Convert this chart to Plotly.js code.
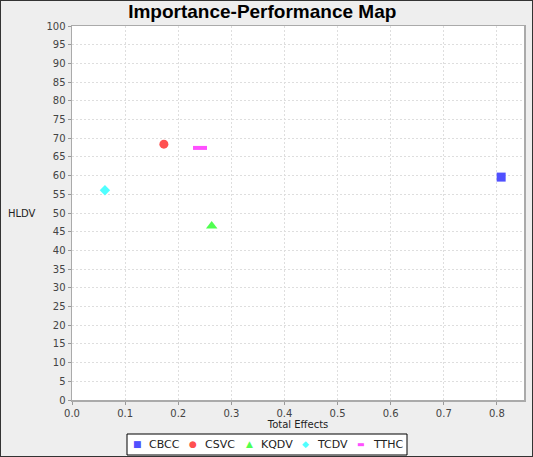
<!DOCTYPE html>
<html><head><meta charset="utf-8">
<script src="https://cdn.plot.ly/plotly-3.0.1.min.js"></script>
<style>body{margin:0;}#wrap{position:relative;width:533px;height:457px;}#frame{position:absolute;left:0;top:0;width:533px;height:457px;box-sizing:border-box;border:1px solid #333;pointer-events:none;}</style>
</head><body>
<div id="wrap"><div id="chart" style="width:533px;height:457px;"></div><div id="frame"></div></div>
<script>
const seriesNames = ["CBCC", "CSVC", "KQDV", "TCDV", "TTHC"];
const totalEffects = [0.808, 0.173, 0.263, 0.062, 0.241];
const hldv = [59.6, 68.4, 46.5, 56.1, 67.4];
const colors = ["#5050ff", "#ff5050", "#50ff50", "#50ffff", "#ff50ff"];
const symbols = ["square", "circle", "triangle-up", "diamond", "line-ew"];
const legendGlyphs = ["■", "●", "▲", "◆", "▬"];
const sizes = [9, 9, 10, 8, 10];

const traces = seriesNames.map((n, i) => ({
  type: "scatter", mode: "markers", name: n, showlegend: false,
  x: [totalEffects[i]], y: [hldv[i]],
  marker: symbols[i] === "line-ew"
    ? {symbol: "line-ew", size: sizes[i], color: colors[i], line: {color: colors[i], width: 4}}
    : {symbol: symbols[i], size: sizes[i], color: colors[i], line: {width: 0}}
}));

// plot area in pixels: left 72, right 524, top 26, bottom 400
const PW = 452, PH = 374;
const px = v => (v - 72) / PW;
const py = v => (400 - v) / PH;

const annotations = [{text: "HLDV", xref: "paper", yref: "paper", x: -0.075, y: 0.5, xanchor: "right", yanchor: "middle", showarrow: false, font: {size: 10, color: "#222"}}];
seriesNames.forEach((n, i) => {
  const sx = 137 + 56 * i;
  annotations.push({text: legendGlyphs[i], xref: "paper", yref: "paper", x: px(sx), y: py(444.5), xanchor: "center", yanchor: "middle", showarrow: false, font: {size: i === 4 ? 8 : 9, color: colors[i]}});
  annotations.push({text: n, xref: "paper", yref: "paper", x: px(sx + 10), y: py(444.5), xanchor: "left", yanchor: "middle", showarrow: false, font: {size: 11, color: "#222"}});
});

const layout = {
  width: 533, height: 457,
  paper_bgcolor: "#eeeeee", plot_bgcolor: "#ffffff",
  margin: {l: 72, r: 9, t: 26, b: 57, autoexpand: false},
  font: {family: "DejaVu Sans, sans-serif", size: 10, color: "#444"},
  title: {text: "<b>Importance-Performance Map</b>", font: {family: "Liberation Sans, Arial, sans-serif", size: 19, color: "#000"}, x: 0.492, xanchor: "center", y: 0.975, yanchor: "middle"},
  xaxis: {
    range: [0, 0.851], dtick: 0.1, tick0: 0, tickformat: ".1f",
    showgrid: true, gridcolor: "#dedede", griddash: "2px,2px", zeroline: false,
    showline: true, linecolor: "#aaaaaa", linewidth: 1.5, mirror: true, ticks: "outside", ticklen: 3, tickcolor: "#999",
    title: {text: "Total Effects", font: {size: 10, color: "#222"}, standoff: 2}
  },
  yaxis: {
    range: [0, 100], dtick: 5, tick0: 0,
    showgrid: true, gridcolor: "#dedede", griddash: "2px,2px", zeroline: false,
    showline: true, linecolor: "#aaaaaa", linewidth: 1.5, mirror: true, ticks: "outside", ticklen: 3, tickcolor: "#999"
  },
  shapes: [{type: "rect", xref: "paper", yref: "paper", x0: px(127), x1: px(407), y0: py(455), y1: py(434), line: {color: "#000", width: 1}, fillcolor: "#ffffff", layer: "below"}],
  annotations: annotations,
  showlegend: false
};
Plotly.newPlot("chart", traces, layout, {staticPlot: true});
</script>
</body></html>
